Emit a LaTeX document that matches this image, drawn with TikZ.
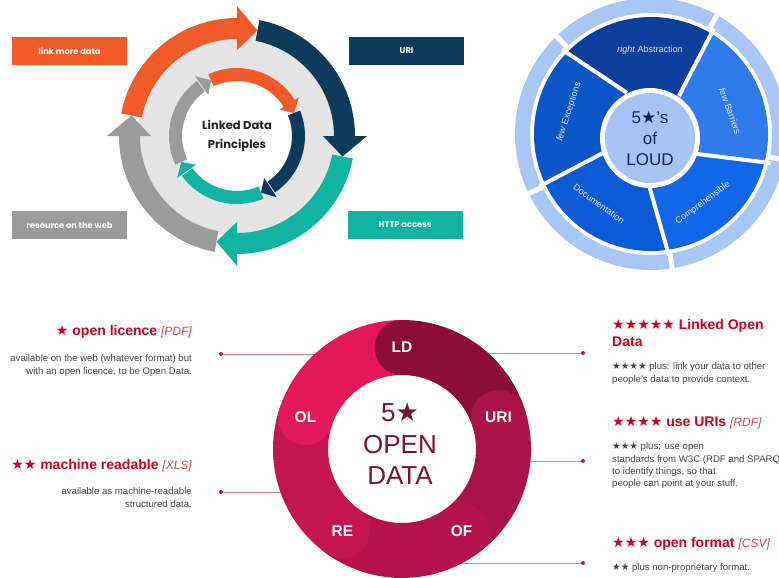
\documentclass[tikz,border=0pt]{standalone}
\usepackage{fontspec}
\setmainfont{Liberation Sans}
\newfontfamily\ldpfont{Poppins}
\newfontfamily\symfont{DejaVu Sans}
\usetikzlibrary{calc}

\definecolor{ldorange}{HTML}{F15A29}
\definecolor{ldnavy}{HTML}{0E3A5C}
\definecolor{ldteal}{HTML}{13B3A2}
\definecolor{ldgrey}{HTML}{9B9B9B}
\definecolor{ldback}{HTML}{E4E4E4}
\definecolor{ldtext}{HTML}{222222}
\definecolor{loudring}{HTML}{A8C7F6}
\definecolor{loudhub}{HTML}{A6C5F4}
\definecolor{loudtext}{HTML}{131F73}
\definecolor{loudlabel}{HTML}{DCE6FF}
\definecolor{loudabs}{HTML}{0B3F9C}
\definecolor{loudexc}{HTML}{0A56C9}
\definecolor{loudbar}{HTML}{2E7BE9}
\definecolor{loudcom}{HTML}{1167E8}
\definecolor{louddoc}{HTML}{0C5AD6}
\definecolor{odol}{HTML}{E2185B}
\definecolor{odld}{HTML}{8A0E38}
\definecolor{oduri}{HTML}{AA1347}
\definecolor{odof}{HTML}{B4144B}
\definecolor{odre}{HTML}{C3154F}
\definecolor{odtext}{HTML}{7A1232}
\definecolor{odred}{HTML}{D0021B}
\definecolor{odtag}{HTML}{E0404A}
\definecolor{odlink}{HTML}{E2799C}
\definecolor{oddot}{HTML}{C2185B}
\definecolor{oddesc}{HTML}{444444}

\newcommand{\sym}[1]{{\symfont #1}}
\newcommand{\odtag}[1]{{\mdseries\itshape\fontsize{12}{14}\selectfont\color{odtag}#1}}

% ring pieces round (P): colour, from, to, inner r, outer r
\newcommand{\cyclebody}[5]{%
  \fill[#1] ($(P)+(#2:#5)$) arc[start angle=#2, end angle=#3, radius=#5]
    -- ($(P)+(#3:#4)$) arc[start angle=#3, end angle=#2, radius=#4] -- cycle;}
% colour, base angle, tip angle, inner r, mid r, outer r
\newcommand{\cyclehead}[6]{%
  \fill[#1] ($(P)+(#2:#4)$) -- ($(P)+(#3:#5)$) -- ($(P)+(#2:#6)$) -- cycle;}
% wheel sectors round (W): colour, gap a (in, out), gap b (in, out)
\newcommand{\loudsector}[5]{%
  \fill[#1] (W) -- ($(W)+(#2:55)$) -- ($(W)+(#3:117)$) arc[start angle=#3, end angle=#5, radius=117]
    -- ($(W)+(#4:55)$) -- cycle;}
\newcommand{\loudgap}[2]{%
  \draw[white, line width=4pt, shorten <=-8pt, shorten >=-6pt] ($(W)+(#1:55)$) -- ($(W)+(#2:117)$);}
% open data ring round (O): colour, from, to
\newcommand{\odsegment}[3]{%
  \fill[#1] ($(O)+(#2:129)$) arc[start angle=#2, end angle=#3, radius=129]
    -- ($(O)+(#3:74)$) arc[start angle=#3, end angle=#2, radius=74] -- cycle;}

\begin{document}
\begin{tikzpicture}[x=1pt, y=1pt,
    ldbox/.style={minimum width=115pt, minimum height=28pt, inner sep=0pt, text=white,
      font=\ldpfont\bfseries\fontsize{8.3}{10}\selectfont},
    loudlabel/.style={inner sep=0pt, text=loudlabel, font=\fontsize{9}{11}\selectfont},
    odcap/.style={circle, minimum size=55pt, inner sep=0pt, text=white,
      font=\bfseries\fontsize{15.5}{17}\selectfont},
    odhead/.style={inner sep=0pt, text=odred, font=\bfseries\fontsize{14}{17}\selectfont},
    oddesc/.style={inner sep=0pt, text=oddesc, font=\fontsize{9.6}{12.4}\selectfont},
    oddot/.style={circle, fill=oddot, minimum size=4pt, inner sep=0pt},
    odlink/.style={draw=odlink, line width=0.8pt}]
\useasboundingbox (0,0) rectangle (779,-578);
\fill[white] (0,0) rectangle (779,-578);

% Linked Data Principles
\coordinate (P) at (237,-136);
\fill[ldback] (P) circle[radius=100];
\fill[white] (P) circle[radius=55];
\cyclebody{ldorange}{169}{89}{97}{118}
\cyclebody{ldnavy}{79}{-1}{97}{118}
\cyclebody{ldteal}{-11}{-91}{97}{118}
\cyclebody{ldgrey}{-101}{-181}{97}{118}
\cyclehead{ldorange}{90}{79}{86}{107.5}{130}
\cyclehead{ldnavy}{0}{-11}{86}{107.5}{130}
\cyclehead{ldteal}{-90}{-101}{86}{107.5}{130}
\cyclehead{ldgrey}{-180}{-191}{86}{107.5}{130}
\cyclebody{ldgrey}{-155}{-234}{55}{68}
\cyclebody{ldorange}{115}{31}{55}{68}
\cyclebody{ldnavy}{22}{-56}{55}{68}
\cyclebody{ldteal}{-67}{-144}{55}{68}
\cyclehead{ldorange}{32}{22}{50}{61.5}{73}
\cyclehead{ldnavy}{-57}{-67}{50}{61.5}{73}
\cyclehead{ldteal}{-145}{-155}{50}{61.5}{73}
\cyclehead{ldgrey}{-235}{-245}{50}{61.5}{73}
\node[text=ldtext, align=center, font=\ldpfont\bfseries\fontsize{11.5}{19}\selectfont]
  (ldp) at (P) {Linked Data\\Principles};
\node[ldbox, fill=ldorange] (more) at (69.5,-51) {link more data};
\node[ldbox, fill=ldnavy] (uri) at (406.5,-51) {URI};
\node[ldbox, fill=ldgrey] (res) at (69.5,-225) {resource on the web};
\node[ldbox, fill=ldteal] (http) at (405,-225) {HTTP access};

% 5 stars of LOUD
\coordinate (W) at (651,-134);
\coordinate (H) at (650,-138);
\fill[loudring, even odd rule] (W) circle[radius=136] (W) circle[radius=121];
\foreach \a in {61,134,206,279,349}
  \draw[white, line width=5pt] ($(W)+(\a:118)$) -- ($(W)+(\a:140)$);
\loudsector{loudbar}{-22}{-14}{55}{59}
\loudsector{loudabs}{55}{59}{124}{136}
\loudsector{loudexc}{124}{136}{202}{205}
\loudsector{louddoc}{202}{205}{269}{278}
\loudsector{loudcom}{269}{278}{338}{346}
\loudgap{55}{59}
\loudgap{124}{136}
\loudgap{202}{205}
\loudgap{269}{278}
\loudgap{338}{346}
\fill[white] (H) circle[radius=50];
\fill[loudhub] (H) circle[radius=45];
\node[text=loudtext, align=center, font=\fontsize{17}{21}\selectfont]
  (loud) at (H) {5\sym{★}’s\\of\\LOUD};
\node[loudlabel] (abs) at (650,-50) {\textit{right} Abstraction};
\node[loudlabel, rotate=-70] (bar) at (730,-111) {\textit{few} Barriers};
\node[loudlabel, rotate=72] (exc) at (569,-112) {\textit{few} Exceptions};
\node[loudlabel, rotate=-36] (doc) at (599,-204) {Documentation};
\node[loudlabel, rotate=37] (com) at (703,-203) {Comprehensible};

% 5 star open data
\coordinate (O) at (402,-449);
\node[oddot] (oldot) at (221,-354) {};
\node[oddot] (redot) at (221,-492) {};
\node[oddot] (lddot) at (583,-353) {};
\node[oddot] (uridot) at (583,-461) {};
\node[oddot] (ofdot) at (583,-563) {};
\coordinate (olend) at (330,-354);
\coordinate (reend) at (300,-492);
\coordinate (ldend) at (475,-353);
\coordinate (uriend) at (515,-461);
\coordinate (ofend) at (445,-563);
\draw[odlink] (oldot) -- (olend);
\draw[odlink] (redot) -- (reend);
\draw[odlink] (lddot) -- (ldend);
\draw[odlink] (uridot) -- (uriend);
\draw[odlink] (ofdot) -- (ofend);
\odsegment{odol}{162}{90}
\odsegment{odld}{90}{18}
\odsegment{oduri}{18}{-54}
\odsegment{odof}{-54}{-126}
\odsegment{odre}{-126}{-198}
\node[odcap, fill=odol] (ol) at ($(O)+(162:101.5)$) {OL};
\node[odcap, fill=odld] (ld) at ($(O)+(90:101.5)$) {LD};
\node[odcap, fill=oduri] (urib) at ($(O)+(18:101.5)$) {URI};
\node[odcap, fill=odof] (of) at ($(O)+(-54:101.5)$) {OF};
\node[odcap, fill=odre] (re) at ($(O)+(-126:101.5)$) {RE};
\node[text=odtext, align=center, font=\fontsize{26}{31.5}\selectfont]
  (five) at (400,-444) {5\sym{★}\\OPEN\\DATA};

\node[odhead, anchor=east] (olhead) at (192,-332) {\sym{★} open licence \odtag{[PDF]}};
\node[oddesc, anchor=north east, align=right] (oltext) at (192,-354.5)
  {available on the web (whatever format) but\\with an open licence, to be Open Data.};
\node[odhead, anchor=east] (rehead) at (192,-466) {\sym{★★} machine readable \odtag{[XLS]}};
\node[oddesc, anchor=north east, align=right] (retext) at (192,-487.5)
  {available as machine-readable\\structured data.};
\node[odhead, anchor=north west, align=left] (ldhead) at (612,-319.5)
  {\sym{★★★★★} Linked Open\\Data};
\node[oddesc, anchor=north west, align=left] (ldtext) at (612,-362.5)
  {\sym{★★★★} plus: link your data to other\\people’s data to provide context.};
\node[odhead, anchor=west] (urihead) at (612,-423) {\sym{★★★★} use URIs \odtag{[RDF]}};
\node[oddesc, anchor=north west, align=left] (uritext) at (612,-442.5)
  {\sym{★★★} plus: use open\\standards from W3C (RDF and SPARQL)\\to identify things, so that\\people can point at your stuff.};
\node[odhead, anchor=west] (ofhead) at (612,-544) {\sym{★★★} open format \odtag{[CSV]}};
\node[oddesc, anchor=west] (oftext) at (612,-568) {\sym{★★} plus non-proprietary format.};
\end{tikzpicture}
\end{document}
